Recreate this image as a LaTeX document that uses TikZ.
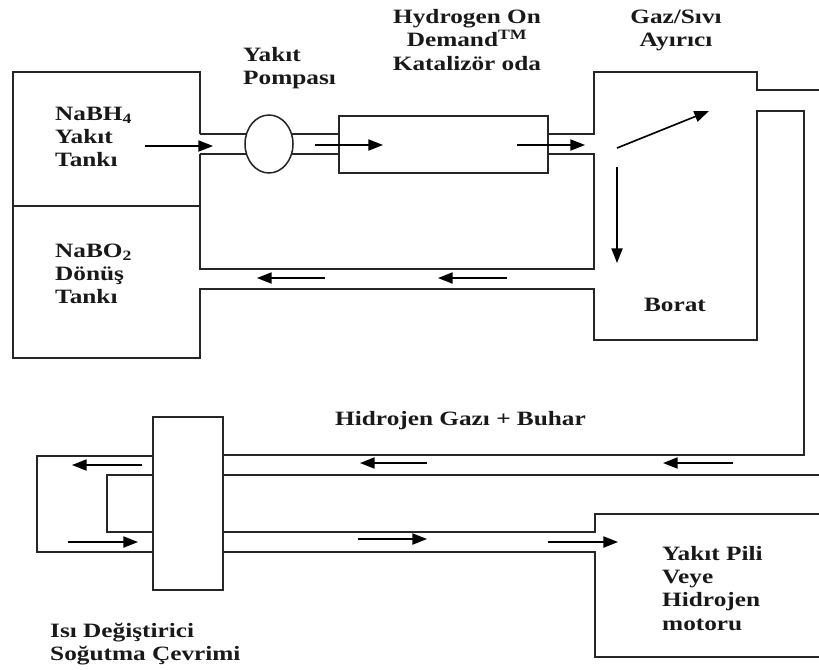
\documentclass[tikz,border=0pt]{standalone}
\usepackage{fontspec}
\setmainfont{Liberation Serif}[FakeStretch=1.24]
\usetikzlibrary{arrows.meta,shapes.geometric}
\newcommand\mylabfont{\bfseries\fontsize{17.4}{20}\selectfont}
\tikzset{
  pipe/.style={line width=1.3pt, draw=black!85},
  flow/.style={line width=1.4pt, draw=black, -{Triangle[length=12.5pt,width=9.5pt]}},
  lab/.style={font=\mylabfont, inner sep=0pt, text=black!90},
}
\begin{document}
\begin{tikzpicture}[x=0.03cm, y=-0.03cm]
\useasboundingbox (0,0) rectangle (819,669);
% --- upper part: tanks, pump, catalyser, separator ---
\draw[pipe] (200,134) -- (200,72) -- (13,72) -- (13,358) -- (200,358) -- (200,289)
  -- (594,289) -- (594,340) -- (757,340) -- (757,111) -- (804,111) -- (804,455) -- (223,455);
\draw[pipe] (13,206) -- (200,206);
\draw[pipe] (200,134) -- (339,134);
\draw[pipe] (200,154) -- (339,154);
\draw[pipe] (200,154) -- (200,269) -- (594,269) -- (594,154) -- (548,154);
\draw[pipe] (548,134) -- (594,134) -- (594,72) -- (757,72) -- (757,90) -- (819,90);
\node[pipe, draw, ellipse, fill=white, minimum width=1.44cm, minimum height=1.74cm, inner sep=0pt] (pump) at (269,144) {};
\draw[pipe] (339,116) rectangle (548,173);
% --- lower part: heat exchanger, fuel cell ---
\draw[pipe] (153,417) rectangle (223,590);
\draw[pipe] (153,456) -- (37,456) -- (37,552) -- (153,552);
\draw[pipe] (153,475) -- (107,475) -- (107,532) -- (153,532);
\draw[pipe] (223,475) -- (819,475);
\draw[pipe] (223,532) -- (595,532) -- (595,514) -- (819,514);
\draw[pipe] (223,552) -- (595,552) -- (595,657) -- (819,657);
% --- flow arrows ---
\draw[flow] (145,146) -- (213,146);
\draw[flow] (315,145) -- (383,145);
\draw[flow] (517,145) -- (585,145);
\draw[flow] (617,148) -- (709,111);
\draw[flow] (617,167) -- (617,263);
\draw[flow] (507,278) -- (438,278);
\draw[flow] (325,278) -- (257,278);
\draw[flow] (733,463) -- (663,463);
\draw[flow] (427,463) -- (360,463);
\draw[flow] (142,465) -- (72,465);
\draw[flow] (68,542) -- (138,542);
\draw[flow] (358,539) -- (427,539);
\draw[flow] (548,542) -- (618,542);
% --- labels ---
\node[lab, anchor=base west] (fueltank) at (55,120) {\begin{tabular}[t]{@{}l@{}}NaBH\textsubscript{4}\\Yakıt\\Tankı\end{tabular}};
\node[lab, anchor=base west] (rettank) at (55,257) {\begin{tabular}[t]{@{}l@{}}NaBO\textsubscript{2}\\Dönüş\\Tankı\end{tabular}};
\node[lab, anchor=base west] (pumplab) at (243,61) {\begin{tabular}[t]{@{}l@{}}Yakıt\\Pompası\end{tabular}};
\node[lab, anchor=base] (catlab) at (467,23) {\begin{tabular}[t]{@{}c@{}}Hydrogen On\\Demand\textsuperscript{TM}\\Katalizör oda\end{tabular}};
\node[lab, anchor=base] (seplab) at (676,23) {\begin{tabular}[t]{@{}c@{}}Gaz/Sıvı\\Ayırıcı\end{tabular}};
\node[lab, anchor=base] (borat) at (675,311) {Borat};
\node[lab, anchor=base west] (gas) at (335,425) {Hidrojen Gazı + Buhar};
\node[lab, anchor=base west] (hex) at (50,637) {\begin{tabular}[t]{@{}l@{}}Isı Değiştirici\\Soğutma Çevrimi\end{tabular}};
\node[lab, anchor=base west] (cell) at (662,560) {\begin{tabular}[t]{@{}l@{}}Yakıt Pili\\Veye\\Hidrojen\\motoru\end{tabular}};
\end{tikzpicture}
\end{document}
